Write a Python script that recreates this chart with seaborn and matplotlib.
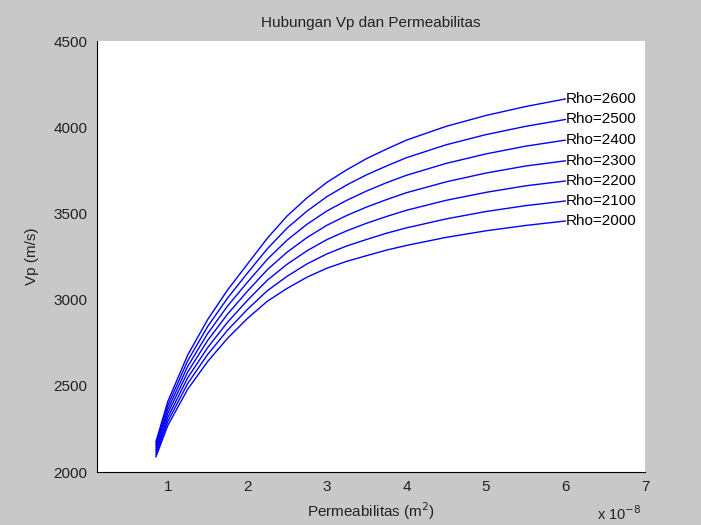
import matplotlib
matplotlib.use("Agg")
import matplotlib.pyplot as plt
import seaborn as sns
import pandas as pd

# Permeability (x 1e-8 m^2) sample points
perm = [0.85, 1.0, 1.25, 1.5, 1.75, 2.0, 2.25, 2.5, 2.75, 3.0, 3.25, 3.5, 3.75,
        4.0, 4.5, 5.0, 5.5, 6.0]

rho_labels = ["Rho=2000", "Rho=2100", "Rho=2200", "Rho=2300", "Rho=2400", "Rho=2500", "Rho=2600"]

vp_2000 = [2087, 2270, 2480, 2640, 2775, 2890, 2990, 3065, 3130, 3182, 3222, 3255, 3287,
           3314, 3361, 3399, 3430, 3456]
vp_2100 = [2101, 2293, 2513, 2681, 2822, 2943, 3051, 3135, 3207, 3265, 3311, 3349, 3385,
           3416, 3468, 3511, 3545, 3572]
vp_2200 = [2116, 2316, 2546, 2721, 2868, 2995, 3112, 3205, 3283, 3348, 3399, 3443, 3482,
           3518, 3576, 3622, 3660, 3688]
vp_2300 = [2130, 2340, 2579, 2762, 2915, 3048, 3173, 3275, 3360, 3431, 3488, 3537, 3580,
           3620, 3683, 3734, 3775, 3805]
vp_2400 = [2145, 2363, 2612, 2802, 2962, 3100, 3233, 3345, 3437, 3514, 3576, 3630, 3678,
           3721, 3790, 3845, 3890, 3925]
vp_2500 = [2160, 2386, 2645, 2843, 3008, 3153, 3294, 3415, 3513, 3597, 3665, 3724, 3775,
           3823, 3898, 3957, 4005, 4045]
vp_2600 = [2174, 2409, 2678, 2883, 3055, 3205, 3355, 3485, 3590, 3680, 3753, 3818, 3873,
           3925, 4005, 4068, 4120, 4164]

series = [vp_2000, vp_2100, vp_2200, vp_2300, vp_2400, vp_2500, vp_2600]

x_ticks = [1, 2, 3, 4, 5, 6, 7]
y_ticks = [2000, 2500, 3000, 3500, 4000, 4500]

rows = []
for lab, vals in zip(rho_labels, series):
    for xv, yv in zip(perm, vals):
        rows.append({"perm": xv, "vp": yv, "rho": lab})
df = pd.DataFrame(rows)

sns.set_theme(style="white")
plt.rcParams["font.family"] = ["Liberation Sans", "DejaVu Sans"]

grey = "#c8c8c8"
fig = plt.figure(figsize=(7.01, 5.25), dpi=100, facecolor=grey)
ax = fig.add_axes([97 / 701, 53 / 525, 548 / 701, 431 / 525])
ax.set_facecolor("white")

sns.lineplot(data=df, x="perm", y="vp", hue="rho",
             palette=["#0000ff"] * len(rho_labels), legend=False,
             estimator=None, sort=False, linewidth=1.0, ax=ax)

for lab, vals in zip(rho_labels, series):
    ax.text(perm[-1], vals[-1], lab, ha="left", va="center",
            fontsize=11, color="black")

ax.set_xlim(0.11, 7)
ax.set_ylim(2000, 4500)
ax.set_xticks(x_ticks)
ax.set_yticks(y_ticks)
ax.set_xticklabels([str(t) for t in x_ticks])
ax.set_yticklabels([str(t) for t in y_ticks])

for side in ["top", "right"]:
    ax.spines[side].set_visible(False)
for side in ["left", "bottom"]:
    ax.spines[side].set_color("black")
    ax.spines[side].set_linewidth(0.8)

ax.tick_params(axis="x", direction="in", length=5, width=0.8, colors="black",
               labelsize=11, pad=6)
ax.tick_params(axis="y", direction="out", length=4, width=0.8, colors="black",
               labelsize=11, pad=3)
for lbl in ax.get_xticklabels() + ax.get_yticklabels():
    lbl.set_color("#222222")

ax.set_xlabel("Permeabilitas (m$^2$)", fontsize=11, color="#222222", labelpad=4)
ax.set_ylabel("Vp (m/s)", fontsize=11, color="#222222", labelpad=10)
ax.set_title("Hubungan Vp dan Permeabilitas", fontsize=11, color="#222222", pad=10)

fig.text(597 / 701, 1 - 514 / 525, "x 10$^{\\mathsf{-8}}$", fontsize=10.5,
         color="#222222", ha="left", va="center")

fig.savefig("out.png", dpi=100, facecolor=grey)
